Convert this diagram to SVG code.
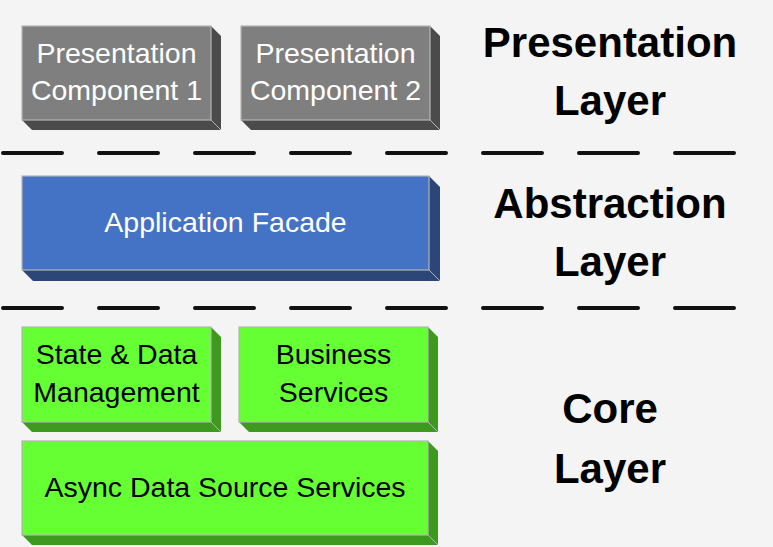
<svg xmlns="http://www.w3.org/2000/svg" width="773" height="547" viewBox="0 0 773 547">
<style>
.face{stroke:#b4b4b4;stroke-width:1.2}
.edge{stroke:#b4b4b4;stroke-width:1;fill:none}
.gray .face{fill:#7f7f7f}.gray .side{fill:#4b4b4b}
.blue .face{fill:#4472c4}.blue .side{fill:#2c4677}
.green .face{fill:#66ff33}.green .side{fill:#3e9a1f}
.lbl{font-family:"Liberation Sans",Arial,sans-serif;font-size:28.5px;text-anchor:middle}
.gray .lbl,.blue .lbl{fill:#ffffff}
.green .lbl{fill:#000000}
.layer{font-family:"Liberation Sans",Arial,sans-serif;font-size:42px;font-weight:bold;text-anchor:middle;fill:#000}
.sep{stroke:#111;stroke-width:4;stroke-linecap:round;stroke-dasharray:59 37}
</style>
<rect width="773" height="547" fill="#f4f4f4"/>
<g id="separators">
<line class="sep" x1="3" y1="153" x2="734" y2="153"/>
<line class="sep" x1="3" y1="308" x2="734" y2="308"/>
</g>
<g id="pres1" class="gray">
<polygon class="side" points="211,26 221,36 221,130 211,120"/>
<polygon class="side" points="22,120 211,120 221,130 32,130"/>
<line class="edge" x1="211" y1="120" x2="221" y2="130"/>
<rect class="face" x="22" y="26" width="189" height="94"/>
<text class="lbl" x="116.5" y="63">Presentation</text>
<text class="lbl" x="116.5" y="100">Component 1</text>
</g>
<g id="pres2" class="gray">
<polygon class="side" points="430,26 440,36 440,130 430,120"/>
<polygon class="side" points="241,120 430,120 440,130 251,130"/>
<line class="edge" x1="430" y1="120" x2="440" y2="130"/>
<rect class="face" x="241" y="26" width="189" height="94"/>
<text class="lbl" x="335.5" y="63">Presentation</text>
<text class="lbl" x="335.5" y="100">Component 2</text>
</g>
<g id="facade" class="blue">
<polygon class="side" points="429,176 440,187 440,281 429,270"/>
<polygon class="side" points="22,270 429,270 440,281 33,281"/>
<line class="edge" x1="429" y1="270" x2="440" y2="281"/>
<rect class="face" x="22" y="176" width="407" height="94"/>
<text class="lbl" x="225.5" y="232">Application Facade</text>
</g>
<g id="state" class="green">
<polygon class="side" points="211,327 221,337 221,432 211,422"/>
<polygon class="side" points="22,422 211,422 221,432 32,432"/>
<line class="edge" x1="211" y1="422" x2="221" y2="432"/>
<rect class="face" x="22" y="327" width="189" height="95"/>
<text class="lbl" x="116.5" y="364">State &amp; Data</text>
<text class="lbl" x="116.5" y="402">Management</text>
</g>
<g id="business" class="green">
<polygon class="side" points="428,327 438,337 438,432 428,422"/>
<polygon class="side" points="239,422 428,422 438,432 249,432"/>
<line class="edge" x1="428" y1="422" x2="438" y2="432"/>
<rect class="face" x="239" y="327" width="189" height="95"/>
<text class="lbl" x="333.5" y="364">Business</text>
<text class="lbl" x="333.5" y="402">Services</text>
</g>
<g id="async" class="green">
<polygon class="side" points="428,441 438,451 438,545 428,535"/>
<polygon class="side" points="22,535 428,535 438,545 32,545"/>
<line class="edge" x1="428" y1="535" x2="438" y2="545"/>
<rect class="face" x="22" y="441" width="406" height="94"/>
<text class="lbl" x="225" y="497">Async Data Source Services</text>
</g>
<g id="layer-labels">
<text class="layer" x="610" y="57">Presentation</text>
<text class="layer" x="610" y="115">Layer</text>
<text class="layer" x="610" y="218">Abstraction</text>
<text class="layer" x="610" y="276">Layer</text>
<text class="layer" x="610" y="423">Core</text>
<text class="layer" x="610" y="483">Layer</text>
</g>
</svg>
